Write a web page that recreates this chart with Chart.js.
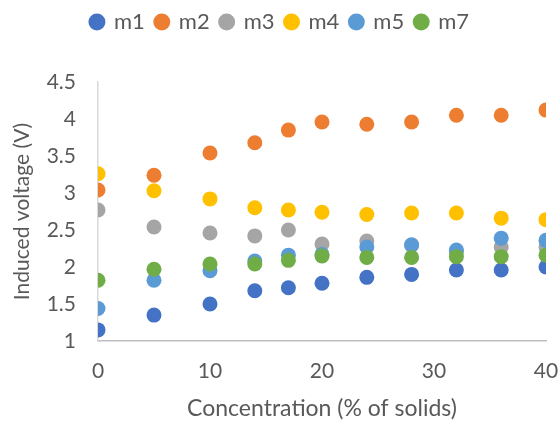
<!DOCTYPE html>
<html>
<head>
<meta charset="utf-8">
<title>Induced voltage vs concentration</title>
<script src="https://cdn.jsdelivr.net/npm/chart.js@4"></script>
<style>
    html, body { margin: 0; padding: 0; background: #ffffff; }
    #wrap { width: 560px; height: 431px; position: relative; }
</style>
</head>
<body>
<div id="wrap"><canvas id="voltageChart"></canvas></div>
<script>
// ========================================
// DATA
// ========================================

const concentration = [0, 5, 10, 14, 17, 20, 24, 28, 32, 36, 40];

const m1 = [1.15, 1.35, 1.50, 1.68, 1.72, 1.78, 1.86, 1.90, 1.96, 1.96, 2.00];
const m2 = [3.04, 3.24, 3.54, 3.68, 3.85, 3.96, 3.93, 3.96, 4.05, 4.05, 4.12];
const m3 = [2.77, 2.54, 2.46, 2.42, 2.50, 2.31, 2.35, 2.29, 2.21, 2.27, 2.27];
const m4 = [3.26, 3.03, 2.92, 2.80, 2.77, 2.74, 2.71, 2.73, 2.73, 2.66, 2.64];
const m5 = [1.44, 1.82, 1.95, 2.08, 2.16, 2.17, 2.27, 2.30, 2.23, 2.39, 2.36];
const m7 = [1.82, 1.97, 2.04, 2.04, 2.09, 2.15, 2.13, 2.13, 2.14, 2.14, 2.16];

const seriesNames = ['m1', 'm2', 'm3', 'm4', 'm5', 'm7'];
const seriesValues = [m1, m2, m3, m4, m5, m7];
const seriesColors = ['#4472C4', '#ED7D31', '#A5A5A5', '#FFC000', '#5B9BD5', '#70AD47'];

const xTicks = [0, 10, 20, 30, 40];
const yMin = 1;
const yMax = 4.5;
const yStep = 0.5;

// ========================================
// CHART
// ========================================

const textColor = '#595959';
const fontFamily = 'Lato, "Open Sans", sans-serif';

const datasets = seriesNames.map((name, i) => ({
    label: name,
    data: concentration.map((x, j) => ({ x: x, y: seriesValues[i][j] })),
    backgroundColor: seriesColors[i],
    borderColor: seriesColors[i],
    borderWidth: 0,
    pointRadius: 7.5,
    pointHoverRadius: 7.5,
    // later series sit on top of earlier ones
    order: seriesNames.length - i
}));

// give the legend a fixed height so the plot starts at the same place
const legendHeight = {
    id: 'legendHeight',
    beforeInit(chart) {
        const fit = chart.legend.fit;
        chart.legend.fit = function() {
            fit.bind(chart.legend)();
            this.height = 82;
        };
    }
};

new Chart(document.getElementById('voltageChart'), {
    type: 'scatter',
    data: { datasets: datasets },
    plugins: [legendHeight],
    options: {
        responsive: true,
        maintainAspectRatio: false,
        animation: false,
        layout: { padding: 0 },
        plugins: {
            tooltip: { enabled: false },
            legend: {
                position: 'top',
                labels: {
                    usePointStyle: true,
                    pointStyle: 'circle',
                    boxWidth: 12,
                    boxHeight: 12,
                    padding: 11,
                    color: textColor,
                    font: { family: fontFamily, size: 22 },
                    sort: (a, b) => a.datasetIndex - b.datasetIndex
                }
            }
        },
        scales: {
            x: {
                type: 'linear',
                min: 0,
                max: 40,
                afterFit: scale => {
                    scale.height = 90;
                    scale.paddingLeft = 0;
                    scale.paddingRight = 14;
                },
                afterBuildTicks: scale => { scale.ticks = xTicks.map(v => ({ value: v })); },
                grid: { display: false, drawTicks: false },
                border: { display: true, color: '#bfbfbf', width: 1.5 },
                ticks: {
                    color: textColor,
                    padding: 18,
                    font: { family: fontFamily, size: 21 }
                },
                title: {
                    display: true,
                    text: 'Concentration (% of solids)',
                    color: textColor,
                    font: { family: fontFamily, size: 23 },
                    padding: { top: 0, bottom: 9 }
                }
            },
            y: {
                type: 'linear',
                min: yMin,
                max: yMax,
                afterFit: scale => { scale.width = 98; },
                grid: { display: false, drawTicks: false },
                border: { display: true, color: '#d9d9d9', width: 1.5 },
                ticks: {
                    stepSize: yStep,
                    color: textColor,
                    padding: 22,
                    font: { family: fontFamily, size: 21 },
                    callback: value => String(value)
                },
                title: {
                    display: true,
                    text: 'Induced voltage (V)',
                    color: textColor,
                    font: { family: fontFamily, size: 21 },
                    padding: { top: 10, bottom: 0 }
                }
            }
        }
    }
});
</script>
</body>
</html>
